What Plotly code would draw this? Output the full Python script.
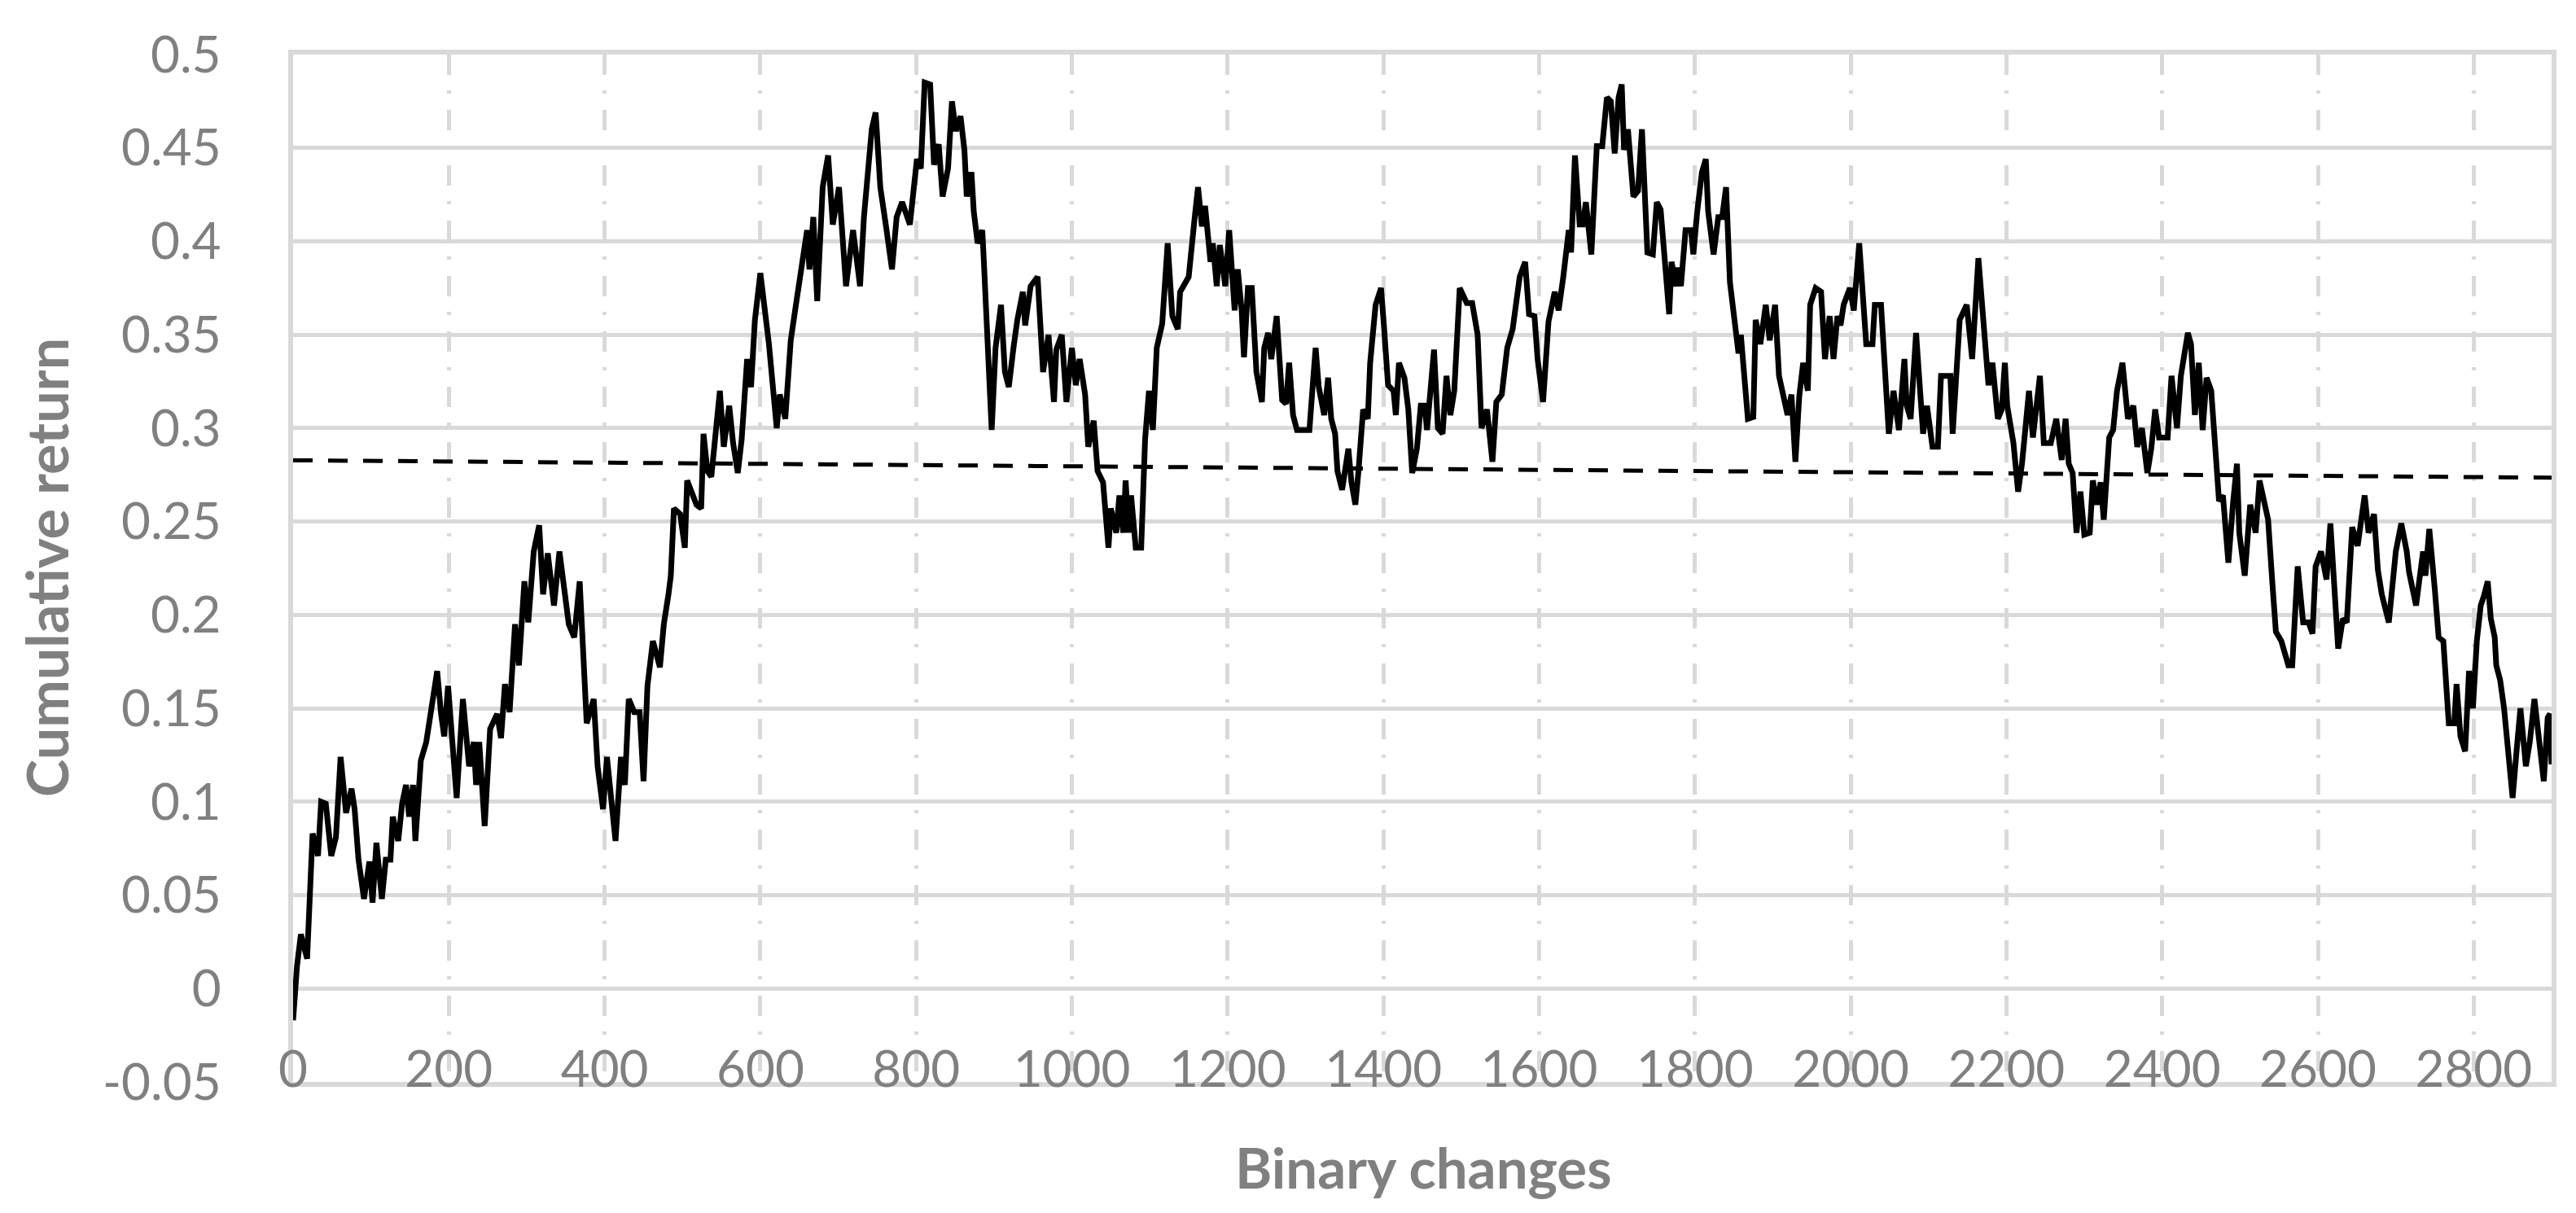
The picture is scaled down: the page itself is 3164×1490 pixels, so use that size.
import plotly.graph_objects as go

# ---- data ----
x_vals = [0, 5, 10, 18, 25, 32, 36, 42, 49, 55, 61, 68, 75, 79, 84, 91, 98, 102, 107, 114,
          119, 125, 128, 135, 140, 145, 149, 154, 157, 164, 171, 177, 185, 190, 194, 199, 210, 218, 226, 232,
          235, 239, 246, 253, 262, 267, 272, 278, 285, 290, 297, 302, 309, 316, 321, 327, 335, 342, 348, 354,
          361, 368, 377, 386, 391, 398, 403, 408, 414, 421, 426, 431, 438, 445, 450, 455, 462, 471, 476, 482,
          485, 489, 497, 503, 506, 518, 524, 527, 532, 537, 541, 548, 553, 560, 565, 571, 576, 583, 588, 593,
          600, 611, 621, 625, 632, 639, 646, 652, 660, 663, 668, 673, 680, 687, 693, 701, 710, 719, 728, 733,
          740, 743, 748, 754, 761, 769, 775, 782, 792, 801, 806, 811, 818, 823, 829, 834, 841, 846, 851, 857,
          862, 865, 871, 874, 879, 885, 887, 897, 902, 909, 914, 919, 925, 930, 937, 940, 947, 956, 963, 970,
          977, 980, 987, 993, 1000, 1005, 1010, 1017, 1021, 1028, 1033, 1040, 1047, 1050, 1057, 1061, 1066, 1069, 1073, 1076,
          1082, 1089, 1094, 1099, 1104, 1109, 1116, 1123, 1129, 1136, 1139, 1150, 1158, 1162, 1167, 1171, 1178, 1181, 1186, 1190,
          1197, 1202, 1209, 1213, 1218, 1221, 1226, 1231, 1237, 1244, 1247, 1252, 1256, 1263, 1270, 1275, 1279, 1284, 1289, 1305,
          1310, 1313, 1317, 1324, 1329, 1333, 1338, 1341, 1347, 1352, 1355, 1359, 1364, 1368, 1374, 1380, 1383, 1390, 1397, 1401,
          1406, 1413, 1416, 1420, 1427, 1432, 1437, 1443, 1448, 1453, 1456, 1465, 1470, 1476, 1481, 1486, 1491, 1498, 1507, 1514,
          1521, 1526, 1533, 1540, 1545, 1552, 1559, 1566, 1570, 1575, 1582, 1587, 1594, 1598, 1605, 1612, 1620, 1625, 1631, 1638,
          1641, 1646, 1652, 1656, 1660, 1667, 1674, 1681, 1687, 1692, 1697, 1702, 1706, 1709, 1714, 1721, 1727, 1732, 1739, 1746,
          1751, 1756, 1767, 1770, 1776, 1779, 1782, 1788, 1795, 1798, 1803, 1809, 1814, 1817, 1824, 1830, 1835, 1840, 1845, 1851,
          1856, 1859, 1868, 1875, 1878, 1884, 1891, 1896, 1903, 1908, 1913, 1919, 1924, 1929, 1934, 1939, 1945, 1948, 1955, 1962,
          1967, 1973, 1978, 1983, 1987, 1991, 1999, 2004, 2011, 2020, 2028, 2031, 2039, 2046, 2049, 2055, 2062, 2069, 2072, 2077,
          2084, 2093, 2098, 2105, 2112, 2116, 2128, 2131, 2140, 2149, 2156, 2164, 2170, 2177, 2182, 2189, 2194, 2198, 2201, 2209,
          2215, 2220, 2229, 2234, 2243, 2248, 2257, 2264, 2271, 2276, 2280, 2285, 2290, 2295, 2300, 2307, 2311, 2316, 2321, 2325,
          2332, 2337, 2342, 2349, 2356, 2363, 2368, 2374, 2381, 2386, 2391, 2396, 2407, 2412, 2419, 2424, 2433, 2437, 2442, 2447,
          2452, 2457, 2463, 2468, 2473, 2478, 2485, 2491, 2496, 2499, 2506, 2513, 2520, 2525, 2536, 2541, 2546, 2553, 2562, 2567,
          2574, 2581, 2588, 2593, 2597, 2604, 2611, 2616, 2623, 2626, 2632, 2637, 2644, 2651, 2660, 2665, 2672, 2677, 2682, 2691,
          2700, 2707, 2714, 2717, 2726, 2735, 2738, 2743, 2750, 2755, 2761, 2768, 2775, 2778, 2783, 2789, 2794, 2799, 2804, 2809,
          2813, 2818, 2822, 2827, 2829, 2834, 2839, 2844, 2850, 2855, 2860, 2867, 2872, 2878, 2883, 2890, 2895, 2898, 2900]

cum_return = [-0.017, 0.012, 0.029, 0.016, 0.083, 0.071, 0.100, 0.099, 0.071, 0.081, 0.124, 0.094, 0.107, 0.096, 0.069, 0.048, 0.068, 0.046, 0.078, 0.048,
              0.069, 0.069, 0.092, 0.079, 0.099, 0.109, 0.092, 0.109, 0.079, 0.122, 0.132, 0.148, 0.170, 0.147, 0.135, 0.162, 0.102, 0.155, 0.119, 0.132,
              0.109, 0.132, 0.087, 0.139, 0.147, 0.134, 0.163, 0.148, 0.195, 0.173, 0.218, 0.196, 0.234, 0.248, 0.211, 0.233, 0.205, 0.234, 0.215, 0.195,
              0.188, 0.218, 0.142, 0.155, 0.119, 0.096, 0.124, 0.106, 0.079, 0.124, 0.109, 0.155, 0.148, 0.148, 0.111, 0.162, 0.186, 0.172, 0.195, 0.211,
              0.221, 0.257, 0.254, 0.236, 0.272, 0.259, 0.257, 0.297, 0.277, 0.274, 0.289, 0.320, 0.290, 0.312, 0.292, 0.276, 0.294, 0.337, 0.322, 0.358,
              0.383, 0.345, 0.300, 0.318, 0.305, 0.347, 0.367, 0.383, 0.406, 0.385, 0.413, 0.368, 0.429, 0.446, 0.409, 0.429, 0.376, 0.406, 0.376, 0.413,
              0.442, 0.460, 0.469, 0.429, 0.409, 0.385, 0.413, 0.421, 0.409, 0.444, 0.439, 0.485, 0.484, 0.441, 0.452, 0.424, 0.439, 0.475, 0.459, 0.467,
              0.449, 0.424, 0.437, 0.416, 0.399, 0.406, 0.389, 0.299, 0.343, 0.366, 0.330, 0.322, 0.343, 0.358, 0.373, 0.355, 0.376, 0.381, 0.330, 0.350,
              0.314, 0.342, 0.350, 0.314, 0.343, 0.323, 0.337, 0.318, 0.290, 0.304, 0.277, 0.271, 0.236, 0.257, 0.244, 0.264, 0.244, 0.272, 0.244, 0.264,
              0.236, 0.236, 0.294, 0.320, 0.299, 0.343, 0.356, 0.399, 0.360, 0.353, 0.373, 0.381, 0.414, 0.429, 0.408, 0.419, 0.389, 0.399, 0.376, 0.398,
              0.376, 0.406, 0.363, 0.385, 0.363, 0.338, 0.375, 0.375, 0.330, 0.314, 0.343, 0.351, 0.337, 0.360, 0.315, 0.313, 0.335, 0.307, 0.299, 0.299,
              0.327, 0.343, 0.322, 0.307, 0.327, 0.305, 0.297, 0.277, 0.267, 0.284, 0.289, 0.271, 0.259, 0.277, 0.310, 0.305, 0.335, 0.366, 0.375, 0.353,
              0.323, 0.320, 0.307, 0.335, 0.327, 0.310, 0.276, 0.289, 0.312, 0.312, 0.299, 0.342, 0.300, 0.297, 0.328, 0.307, 0.320, 0.375, 0.367, 0.367,
              0.350, 0.300, 0.310, 0.282, 0.314, 0.318, 0.343, 0.353, 0.366, 0.381, 0.389, 0.361, 0.360, 0.337, 0.314, 0.357, 0.373, 0.363, 0.381, 0.406,
              0.394, 0.446, 0.409, 0.409, 0.421, 0.393, 0.451, 0.451, 0.477, 0.475, 0.447, 0.477, 0.484, 0.449, 0.460, 0.424, 0.427, 0.460, 0.394, 0.393,
              0.421, 0.417, 0.361, 0.389, 0.376, 0.386, 0.376, 0.406, 0.406, 0.393, 0.416, 0.437, 0.444, 0.416, 0.393, 0.413, 0.413, 0.429, 0.378, 0.355,
              0.340, 0.350, 0.305, 0.306, 0.358, 0.345, 0.366, 0.347, 0.366, 0.328, 0.317, 0.307, 0.318, 0.282, 0.317, 0.335, 0.320, 0.366, 0.375, 0.373,
              0.337, 0.360, 0.337, 0.360, 0.355, 0.366, 0.375, 0.363, 0.399, 0.345, 0.345, 0.366, 0.366, 0.320, 0.297, 0.320, 0.299, 0.337, 0.312, 0.305,
              0.351, 0.297, 0.312, 0.290, 0.290, 0.328, 0.328, 0.297, 0.358, 0.366, 0.337, 0.391, 0.355, 0.323, 0.335, 0.305, 0.310, 0.335, 0.312, 0.292,
              0.266, 0.281, 0.320, 0.295, 0.328, 0.292, 0.292, 0.305, 0.283, 0.305, 0.281, 0.276, 0.244, 0.266, 0.243, 0.244, 0.272, 0.259, 0.271, 0.251,
              0.295, 0.299, 0.320, 0.335, 0.305, 0.312, 0.290, 0.300, 0.276, 0.289, 0.310, 0.295, 0.295, 0.328, 0.300, 0.328, 0.351, 0.345, 0.307, 0.335,
              0.299, 0.327, 0.320, 0.284, 0.261, 0.264, 0.228, 0.260, 0.281, 0.244, 0.221, 0.259, 0.244, 0.272, 0.251, 0.220, 0.191, 0.186, 0.173, 0.173,
              0.226, 0.196, 0.196, 0.190, 0.226, 0.234, 0.219, 0.249, 0.203, 0.182, 0.198, 0.196, 0.247, 0.237, 0.264, 0.244, 0.254, 0.224, 0.211, 0.196,
              0.234, 0.249, 0.234, 0.223, 0.205, 0.234, 0.221, 0.246, 0.214, 0.188, 0.186, 0.142, 0.142, 0.163, 0.135, 0.127, 0.170, 0.150, 0.186, 0.205,
              0.210, 0.218, 0.198, 0.188, 0.173, 0.165, 0.150, 0.130, 0.102, 0.127, 0.150, 0.119, 0.132, 0.155, 0.134, 0.111, 0.145, 0.147, 0.120]

trend_x = [0, 2900]
trend_y = [0.2828, 0.2735]

x_tick_vals = [0, 200, 400, 600, 800, 1000, 1200, 1400, 1600, 1800, 2000, 2200, 2400, 2600, 2800]
x_tick_text = ["0", "200", "400", "600", "800", "1000", "1200", "1400", "1600", "1800", "2000",
               "2200", "2400", "2600", "2800"]
y_tick_vals = [-0.05, 0, 0.05, 0.1, 0.15, 0.2, 0.25, 0.3, 0.35, 0.4, 0.45, 0.5]
y_tick_text = ["-0.05", "0", "0.05", "0.1", "0.15", "0.2", "0.25", "0.3", "0.35", "0.4", "0.45", "0.5"]

x_title = "Binary changes"
y_title = "Cumulative return"

GRID = "#d9d9d9"
TXT = "#808080"
FONT = "Lato"

fig = go.Figure()
fig.add_trace(go.Scatter(x=x_vals, y=cum_return, mode="lines",
                         line=dict(color="#000000", width=7), showlegend=False,
                         hoverinfo="skip"))
fig.add_trace(go.Scatter(x=trend_x, y=trend_y, mode="lines",
                         line=dict(color="#000000", width=5, dash="24px,19px"),
                         showlegend=False, hoverinfo="skip"))

fig.update_layout(
    width=3164, height=1490,
    margin=dict(l=352, r=38, t=59, b=169),
    paper_bgcolor="white", plot_bgcolor="white",
    font=dict(family=FONT, color=TXT, size=62),
    xaxis=dict(range=[0, 2900], tickvals=x_tick_vals, ticktext=x_tick_text,
               showgrid=True, gridcolor=GRID, gridwidth=5, griddash="25px,19px,4px,20px",
               zeroline=False, showline=True, linecolor=GRID, linewidth=6, mirror=True,
               ticks="", ticklabelposition="outside", ticklabelstandoff=-74,
               tickfont=dict(family=FONT, size=62, color=TXT)),
    yaxis=dict(range=[-0.05, 0.5], tickvals=y_tick_vals, ticktext=y_tick_text,
               showgrid=True, gridcolor=GRID, gridwidth=5,
               zeroline=False, showline=True, linecolor=GRID, linewidth=6, mirror=True,
               ticks="", ticklabelstandoff=70,
               tickfont=dict(family=FONT, size=62, color=TXT)),
    annotations=[
        dict(text="<b>" + x_title + "</b>", xref="paper", yref="paper",
             x=0.5004, y=0, yshift=-104, xanchor="center", yanchor="middle", showarrow=False,
             font=dict(family=FONT, size=69, color=TXT)),
        dict(text="<b>" + y_title + "</b>", xref="paper", yref="paper",
             x=-0.109, y=0.5004, xanchor="center", yanchor="middle", showarrow=False,
             textangle=-90, font=dict(family=FONT, size=70, color=TXT)),
    ],
)

fig.write_html("out.html")
